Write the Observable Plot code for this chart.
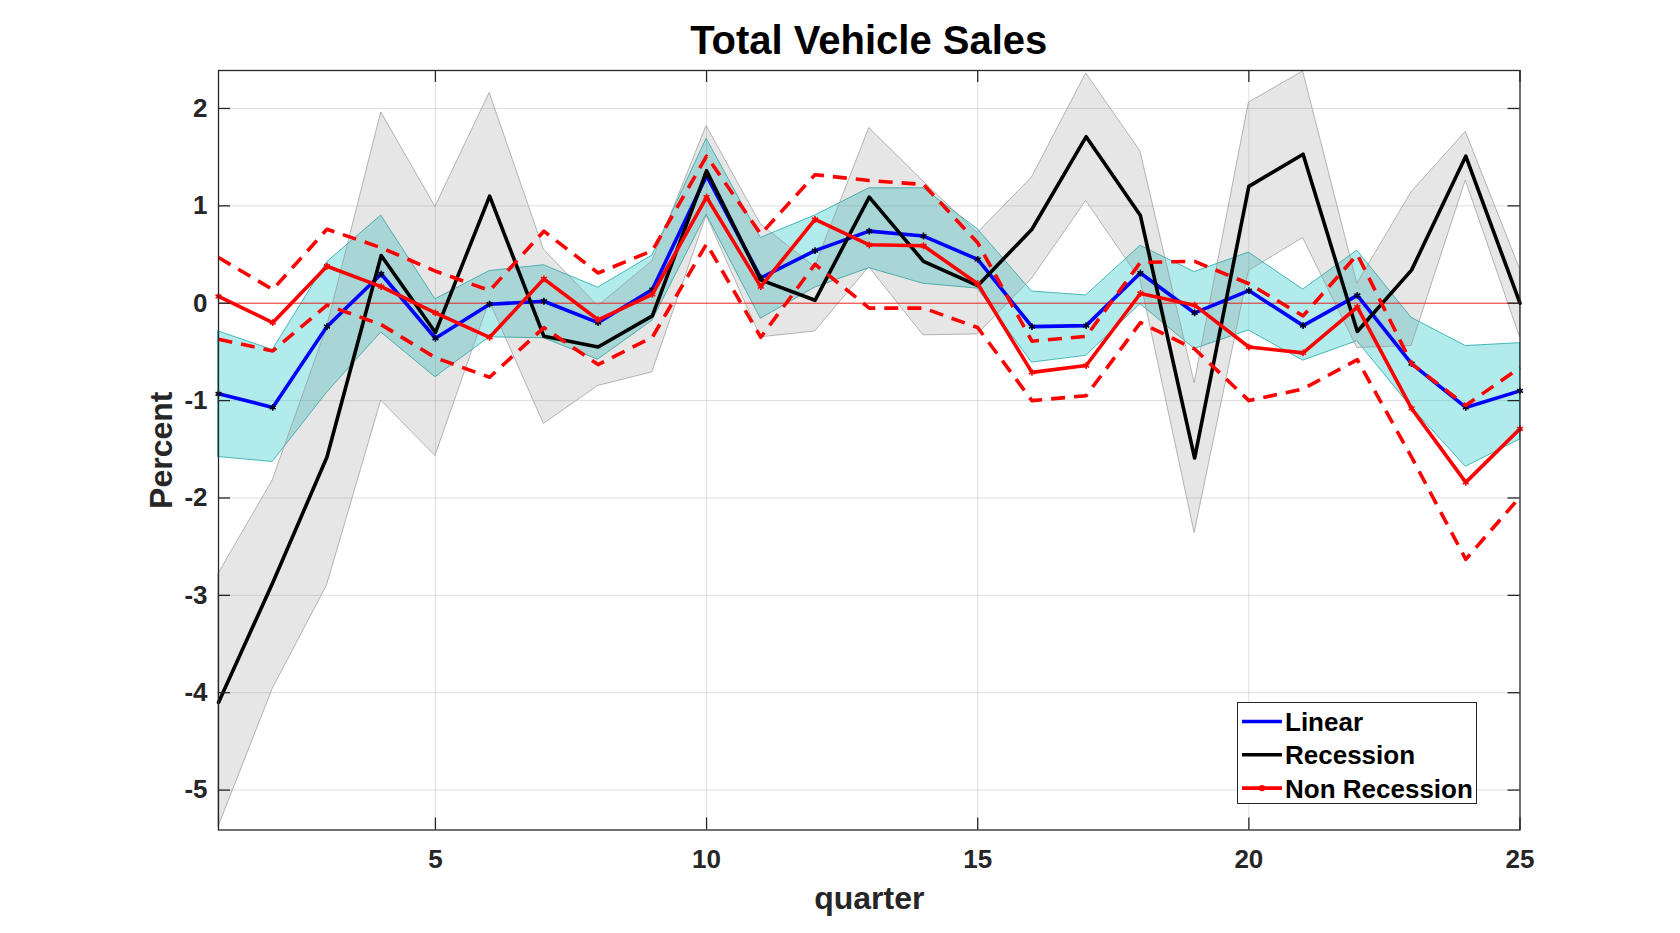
<!DOCTYPE html>
<html>
<head>
<meta charset="utf-8">
<script src="https://cdn.jsdelivr.net/npm/d3@7"></script>
<script src="https://cdn.jsdelivr.net/npm/@observablehq/plot@0.6"></script>
<style>
  html, body { margin: 0; padding: 0; background: #fff; }
  body { width: 1680px; height: 933px; overflow: hidden; position: relative; font-family: "Liberation Sans", Arial, Helvetica, sans-serif; }
  #title { position: absolute; left: 218px; width: 1301.5px; top: 19.5px; text-align: center; font-weight: bold; font-size: 40px; line-height: 40px; color: #000; }
  #chart { position: absolute; left: 0; top: 0; }
  #legend { position: absolute; left: 1237px; top: 702px; width: 240px; height: 102px; border: 1.3px solid #262626; background: #fff; box-sizing: border-box; }
</style>
</head>
<body>
<div id="chart"></div>
<div id="title">Total Vehicle Sales</div>
<div id="legend"></div>
<script>
// ---- data ----
const quarters = [1,2,3,4,5,6,7,8,9,10,11,12,13,14,15,16,17,18,19,20,21,22,23,24,25];

const linear     = [-0.93,-1.07,-0.24,0.30,-0.36,-0.01,0.02,-0.20,0.14,1.31,0.26,0.54,0.74,0.69,0.45,-0.24,-0.23,0.31,-0.10,0.13,-0.23,0.08,-0.62,-1.07,-0.90];
const linearLow  = [-1.58,-1.63,-0.92,-0.30,-0.76,-0.35,-0.36,-0.58,-0.18,0.91,-0.16,0.16,0.36,0.20,0.15,-0.61,-0.54,-0.01,-0.47,-0.28,-0.59,-0.39,-1.07,-1.68,-1.40];
const linearHigh = [-0.29,-0.48,0.42,0.90,0.04,0.33,0.39,0.16,0.49,1.69,0.67,0.90,1.18,1.18,0.76,0.12,0.08,0.59,0.32,0.52,0.14,0.54,-0.15,-0.44,-0.41];

const recession     = [-4.10,-2.87,-1.58,0.49,-0.30,1.10,-0.34,-0.45,-0.13,1.36,0.24,0.03,1.09,0.43,0.18,0.76,1.71,0.90,-1.59,1.20,1.53,-0.29,0.34,1.51,0.00];
const recessionLow  = [-5.38,-3.96,-2.90,-1.00,-1.57,0.02,-1.24,-0.85,-0.71,0.90,-0.35,-0.29,0.37,-0.33,-0.32,0.25,1.05,0.24,-2.36,0.33,0.67,-0.46,-0.44,1.26,-0.35];
const recessionHigh = [-2.78,-1.82,-0.25,1.96,0.99,2.16,0.55,-0.03,0.43,1.82,0.81,0.37,1.80,1.25,0.72,1.29,2.36,1.56,-0.82,2.06,2.38,0.20,1.14,1.76,0.35];

const nonRecession     = [0.07,-0.20,0.38,0.17,-0.10,-0.35,0.25,-0.17,0.09,1.09,0.17,0.86,0.60,0.59,0.20,-0.71,-0.64,0.10,-0.02,-0.45,-0.51,-0.04,-1.08,-1.84,-1.29];
const nonRecessionLow  = [-0.37,-0.49,-0.02,-0.22,-0.56,-0.76,-0.25,-0.63,-0.35,0.61,-0.35,0.40,-0.05,-0.05,-0.25,-1.00,-0.95,-0.20,-0.47,-1.00,-0.88,-0.58,-1.58,-2.63,-1.99];
const nonRecessionHigh = [0.47,0.14,0.76,0.57,0.33,0.13,0.74,0.31,0.54,1.51,0.71,1.32,1.26,1.22,0.62,-0.39,-0.34,0.42,0.43,0.20,-0.13,0.50,-0.62,-1.05,-0.66];

const xTicks = [5,10,15,20,25];
const yTicks = [-5,-4,-3,-2,-1,0,1,2];
const xDomain = [1,25];
const yDomain = [-5.41,2.39];
const zeroLine = [0];
const xLabel = "quarter";
const yLabel = "Percent";
const legendItems = ["Linear","Recession","Non Recession"];

// ---- table ----
const rows = quarters.map((q,i) => ({
  q,
  linear: linear[i], linearLow: linearLow[i], linearHigh: linearHigh[i],
  rec: recession[i], recLow: recessionLow[i], recHigh: recessionHigh[i],
  non: nonRecession[i], nonLow: nonRecessionLow[i], nonHigh: nonRecessionHigh[i]
}));

const W = 1680, H = 933;
const mL = 218, mR = 160.5, mT = 70, mB = 103.5;
const fW = W - mL - mR, fH = H - mT - mB;
const tickLen = 12;
const axisColor = "#262626";
const lw = 3.6;

const chart = Plot.plot({
  width: W, height: H,
  marginLeft: mL, marginRight: mR, marginTop: mT, marginBottom: mB,
  x: {domain: xDomain},
  y: {domain: yDomain},
  style: {fontFamily: '"Liberation Sans", Arial, Helvetica, sans-serif', fontWeight: "bold", color: axisColor, background: "#fff", overflow: "visible"},
  marks: [
    // grid
    Plot.ruleX(xTicks, {x: d => d, stroke: axisColor, strokeOpacity: 0.15, strokeWidth: 1}),
    Plot.ruleY(yTicks, {y: d => d, stroke: axisColor, strokeOpacity: 0.15, strokeWidth: 1}),
    // confidence bands
    Plot.areaY(rows, {x: "q", y1: "linearLow", y2: "linearHigh", fill: "#00bcbc", fillOpacity: 0.3, stroke: "#22aaaa", strokeWidth: 0.9, strokeOpacity: 0.9}),
    Plot.areaY(rows, {x: "q", y1: "recLow", y2: "recHigh", fill: "#808080", fillOpacity: 0.2, stroke: "#999", strokeWidth: 0.9, strokeOpacity: 0.8}),
    // zero line
    Plot.ruleY(zeroLine, {y: d => d, stroke: "#ff0000", strokeWidth: 1, strokeOpacity: 0.8}),
    // linear
    Plot.line(rows, {x: "q", y: "linear", stroke: "#0000ff", strokeWidth: lw}),
    Plot.dot(rows, {x: "q", y: "linear", symbol: "asterisk", r: 3.2, stroke: "#000022", strokeWidth: 1.6}),
    // recession
    Plot.line(rows, {x: "q", y: "rec", stroke: "#000", strokeWidth: lw}),
    // non recession
    Plot.line(rows, {x: "q", y: "non", stroke: "#ff0000", strokeWidth: lw}),
    Plot.dot(rows, {x: "q", y: "non", symbol: "asterisk", r: 3.2, stroke: "#ff0000", strokeWidth: 1.6}),
    Plot.line(rows, {x: "q", y: "nonHigh", stroke: "#ff0000", strokeWidth: lw, strokeDasharray: "14,9", strokeLinecap: "butt"}),
    Plot.line(rows, {x: "q", y: "nonLow", stroke: "#ff0000", strokeWidth: lw, strokeDasharray: "14,9", strokeLinecap: "butt"}),
    // box
    Plot.frame({stroke: axisColor, strokeWidth: 1.3}),
    // inward tick marks (bottom/top/left/right)
    Plot.tickX(xTicks, {x: d => d, insetTop: fH - tickLen, stroke: axisColor, strokeWidth: 1.3}),
    Plot.tickX(xTicks, {x: d => d, insetBottom: fH - tickLen, stroke: axisColor, strokeWidth: 1.3}),
    Plot.tickY(yTicks, {y: d => d, insetRight: fW - tickLen, stroke: axisColor, strokeWidth: 1.3}),
    Plot.tickY(yTicks, {y: d => d, insetLeft: fW - tickLen, stroke: axisColor, strokeWidth: 1.3}),
    // tick labels
    Plot.axisX({ticks: xTicks, tickSize: 0, tickPadding: 19.5, fontSize: 26, fontWeight: "bold", label: null, tickFormat: d => String(d)}),
    Plot.axisY({ticks: yTicks, tickSize: 0, tickPadding: 11, fontSize: 26, fontWeight: "bold", label: null, tickFormat: d => String(d)}),
    // axis labels
    Plot.text([xLabel], {text: d => d, frameAnchor: "bottom", textAnchor: "middle", lineAnchor: "bottom", dy: 78.5, fontSize: 32, fontWeight: "bold", fill: axisColor}),
    Plot.text([yLabel], {text: d => d, frameAnchor: "left", textAnchor: "middle", lineAnchor: "bottom", rotate: -90, dx: -46.5, fontSize: 32, fontWeight: "bold", fill: axisColor})
  ]
});
document.getElementById("chart").appendChild(chart);

// ---- legend (overlay box inside the axes) ----
const legendStyles = [
  {stroke: "#0000ff", marker: false},
  {stroke: "#000000", marker: false},
  {stroke: "#ff0000", marker: true}
];
const ns = "http://www.w3.org/2000/svg";
const lsvg = document.createElementNS(ns, "svg");
lsvg.setAttribute("width", 238);
lsvg.setAttribute("height", 100);
lsvg.style.display = "block";
legendItems.forEach((name, i) => {
  const cy = 18.5 + i * 33.3;
  const ln = document.createElementNS(ns, "line");
  ln.setAttribute("x1", 4); ln.setAttribute("x2", 44);
  ln.setAttribute("y1", cy); ln.setAttribute("y2", cy);
  ln.setAttribute("stroke", legendStyles[i].stroke);
  ln.setAttribute("stroke-width", lw);
  lsvg.appendChild(ln);
  if (legendStyles[i].marker) {
    const c = document.createElementNS(ns, "circle");
    c.setAttribute("cx", 24); c.setAttribute("cy", cy); c.setAttribute("r", 3.2);
    c.setAttribute("fill", legendStyles[i].stroke);
    lsvg.appendChild(c);
  }
  const t = document.createElementNS(ns, "text");
  t.setAttribute("x", 47);
  t.setAttribute("y", cy + 9.5);
  t.setAttribute("font-size", 26);
  t.setAttribute("font-weight", "bold");
  t.setAttribute("font-family", '"Liberation Sans", Arial, Helvetica, sans-serif');
  t.setAttribute("fill", "#000");
  t.textContent = name;
  lsvg.appendChild(t);
});
document.getElementById("legend").appendChild(lsvg);
</script>
</body>
</html>
